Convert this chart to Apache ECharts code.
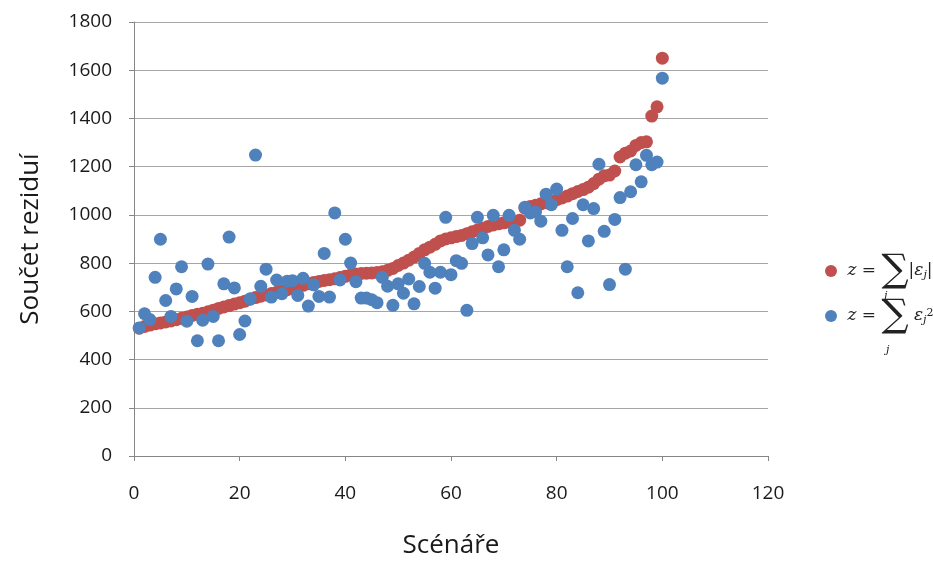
<!DOCTYPE html>
<html>
<head>
<meta charset="utf-8">
<script src="https://cdn.jsdelivr.net/npm/echarts@6/dist/echarts.min.js"></script>
<style>
  html, body { margin: 0; padding: 0; background: #fff; overflow: hidden; }
  #chart { width: 933px; height: 564px; }
</style>
</head>
<body>
<div id="chart"></div>
<script>
// scénáře 1..100
const scenarios = Array.from({ length: 100 }, (_, i) => i + 1)

// z = sum |eps_j|  (seřazeno)
const absResid = [
  530, 537, 543, 548, 552, 556, 560, 565, 571, 577,
  583, 588, 592, 598, 605, 612, 618, 624, 630, 636,
  642, 650, 657, 663, 668, 674, 679, 685, 690, 696,
  702, 708, 714, 720, 724, 728, 731, 735, 740, 745,
  751, 755, 757, 758, 759, 761, 764, 770, 778, 790,
  800, 812, 825, 840, 855, 866, 878, 892, 900, 905,
  910, 915, 922, 930, 937, 945, 952, 958, 963, 967,
  970, 973, 978, 1028, 1035, 1040, 1046, 1050, 1056, 1063,
  1070, 1078, 1088, 1097, 1105, 1115, 1130, 1148, 1162, 1165,
  1182, 1240, 1256, 1265, 1288, 1300, 1303, 1410, 1448, 1650
]

// z = sum eps_j^2
const sqResid = [
  531, 590, 566, 741, 899, 645, 579, 693, 785, 559,
  662, 478, 563, 796, 579, 478, 714, 908, 697, 504,
  560, 652, 1248, 704, 775, 659, 730, 673, 725, 727,
  666, 737, 622, 710, 662, 840, 659, 1008, 730, 899,
  800, 723, 655, 655, 648, 636, 741, 704, 625, 714,
  675, 734, 631, 703, 799, 762, 696, 762, 990, 752,
  810, 799, 604, 881, 990, 905, 834, 998, 785, 855,
  998, 936, 899, 1032, 1008, 1012, 974, 1086, 1042, 1107,
  936, 785, 985, 677, 1042, 892, 1026, 1210, 932, 711,
  981, 1072, 775, 1096, 1208, 1137, 1247, 1208, 1219, 1567
]

const yTicks = [0, 200, 400, 600, 800, 1000, 1200, 1400, 1600, 1800]
const xTicks = [0, 20, 40, 60, 80, 100, 120]

const absName = 'z = ∑|εj|'
const sqName = 'z = ∑εj²'

const chart = echarts.init(document.getElementById('chart'))

const labelFont = { fontFamily: 'Open Sans', fontSize: 19, color: '#1a1a1a' }
const mathRich = {
  z: { fontFamily: 'DejaVu Serif', fontStyle: 'italic', fontSize: 17, color: '#222' },
  eq: { fontFamily: 'DejaVu Serif', fontSize: 17, color: '#222' },
  sum: { fontFamily: 'DejaVu Serif', fontSize: 38, color: '#222' },
  e: { fontFamily: 'DejaVu Serif', fontStyle: 'italic', fontSize: 17, color: '#222' },
  sub: { fontFamily: 'DejaVu Serif', fontStyle: 'italic', fontSize: 11, color: '#222', verticalAlign: 'bottom', padding: [0, 0, 9, 0] },
  sup: { fontFamily: 'DejaVu Serif', fontSize: 11, color: '#222', verticalAlign: 'top', padding: [11, 0, 0, 0] }
}

const legendFmt = function (name) {
  if (name === absName) return '{z| z}{eq| = }{sum|∑}{e||ε}{sub|j}{e||}'
  return '{z| z}{eq| = }{sum|∑}{e| ε}{sub|j}{sup|2}'
}

chart.setOption({
  animation: false,
  grid: { left: 134, right: 165, top: 22, bottom: 104, containLabel: false },
  legend: [
    {
      data: [absName], orient: 'vertical', left: 825, top: 252, padding: 0,
      icon: 'circle', itemWidth: 12, itemHeight: 12,
      formatter: legendFmt, textStyle: { rich: mathRich }
    },
    {
      data: [sqName], orient: 'vertical', left: 825, top: 297, padding: 0,
      icon: 'circle', itemWidth: 12, itemHeight: 12,
      formatter: legendFmt, textStyle: { rich: mathRich }
    }
  ],
  graphic: [
    { type: 'text', left: 884, top: 291, style: { text: 'j', font: 'italic 11px "DejaVu Serif"', fill: '#222' } },
    { type: 'text', left: 886, top: 345, style: { text: 'j', font: 'italic 11px "DejaVu Serif"', fill: '#222' } }
  ],
  xAxis: {
    type: 'value', min: 0, max: 120, interval: 20,
    name: 'Scénáře', nameLocation: 'middle', nameGap: 77,
    nameTextStyle: { fontFamily: 'Open Sans', fontSize: 26, color: '#1a1a1a' },
    axisLine: { show: true, onZero: false, lineStyle: { color: '#868686', width: 1 } },
    axisTick: { show: true, inside: false, length: 5, lineStyle: { color: '#868686' } },
    axisLabel: Object.assign({ margin: 28, formatter: v => xTicks.includes(v) ? String(v) : '' }, labelFont),
    splitLine: { show: false }
  },
  yAxis: {
    type: 'value', min: 0, max: 1800, interval: 200,
    name: 'Součet reziduí', nameLocation: 'middle', nameGap: 90, nameRotate: 90,
    nameTextStyle: { fontFamily: 'Open Sans', fontSize: 26, color: '#1a1a1a' },
    axisLine: { show: true, lineStyle: { color: '#868686', width: 1 } },
    axisTick: { show: true, inside: false, length: 5, lineStyle: { color: '#868686' } },
    axisLabel: Object.assign({ margin: 22, formatter: v => yTicks.includes(v) ? String(v) : '' }, labelFont),
    splitLine: { show: true, lineStyle: { color: '#a6a6a6', width: 1 } }
  },
  series: [
    {
      name: absName, type: 'scatter', symbol: 'circle', symbolSize: 13,
      itemStyle: { color: '#C0504D', opacity: 1 },
      data: scenarios.map((s, i) => [s, absResid[i]])
    },
    {
      name: sqName, type: 'scatter', symbol: 'circle', symbolSize: 13,
      itemStyle: { color: '#4F81BD', opacity: 1 },
      data: scenarios.map((s, i) => [s, sqResid[i]])
    }
  ]
})
</script>
</body>
</html>
